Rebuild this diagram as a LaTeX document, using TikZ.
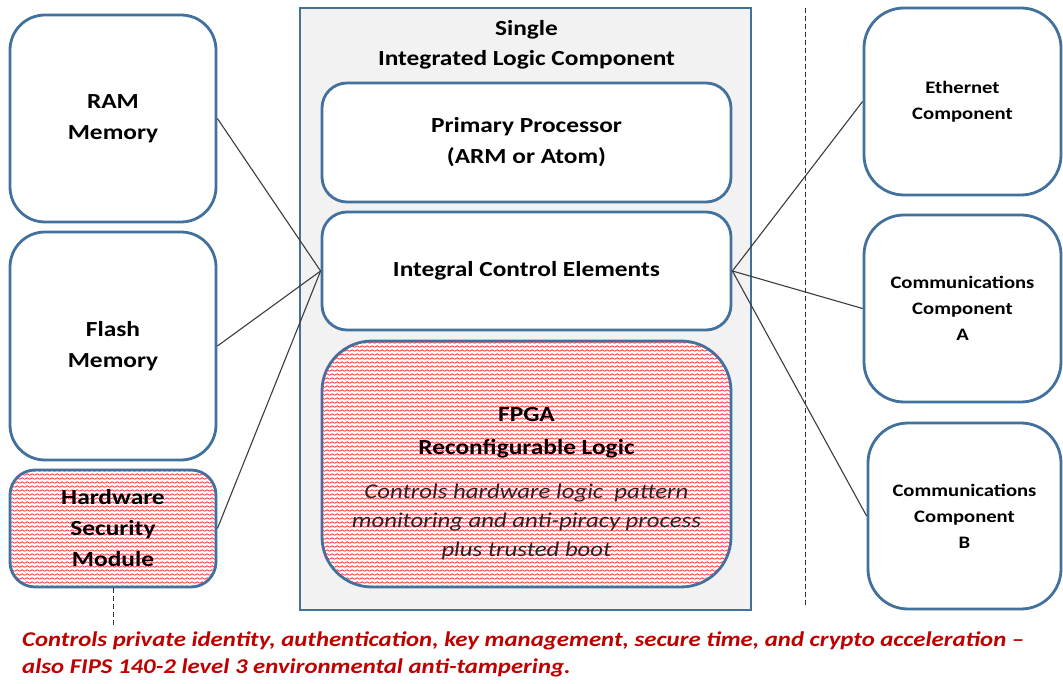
\documentclass[tikz,border=0pt]{standalone}
\usepackage{fontspec}
\setmainfont{Carlito}[FakeStretch=1.18]
\usetikzlibrary{patterns.meta}
\definecolor{bord}{RGB}{65,113,156}
\definecolor{panelgray}{RGB}{242,242,242}
\definecolor{darkred}{RGB}{192,0,0}
\definecolor{linegray}{RGB}{60,60,60}
\tikzdeclarepattern{
  name=redwave,
  type=uncolored,
  bounding box={(0pt,0pt) and (5pt,4pt)},
  tile size={(5pt,4pt)},
  code={\draw[line width=0.75pt] (-0.5pt,1.5pt) -- (0pt,1pt) -- (2.5pt,2.8pt) -- (5pt,1pt) -- (5.5pt,1.5pt);}
}
\tikzset{
  base/.style={draw=bord, line width=2.8pt, align=center, inner sep=0pt, font=\bfseries\fontsize{21.5}{31}\selectfont},
  plainbox/.style={base, fill=white},
  hatchbox/.style={base, preaction={fill=white}, pattern={redwave}, pattern color=red},
  smalltxt/.style={font=\bfseries\fontsize{17.5}{26}\selectfont},
  link/.style={draw=linegray, line width=1.1pt},
  sep/.style={draw=black!80, line width=0.9pt, dash pattern=on 5pt off 3pt},
  note/.style={text=darkred, font=\bfseries\itshape\fontsize{21}{27}\selectfont, anchor=west, inner sep=0pt}
}
\begin{document}
\begin{tikzpicture}[x=1pt,y=-1pt]
\useasboundingbox[fill=white] (0,0) rectangle (1063,684);
% left column
\node[plainbox, rounded corners=35pt, minimum width=206pt, minimum height=207pt] (ram) at (113,118.5) {RAM\\Memory};
\node[plainbox, rounded corners=35pt, minimum width=206pt, minimum height=228pt] (flash) at (113,346) {Flash\\Memory};
\node[hatchbox, rounded corners=25pt, minimum width=206pt, minimum height=117pt] (hsm) at (113,528.5) {Hardware\\Security\\Module};
% central panel
\node[draw=bord, line width=2.8pt, fill=panelgray, minimum width=451pt, minimum height=602pt, inner sep=0pt] (panel) at (525.5,309) {};
\node[font=\bfseries\fontsize{21.5}{30}\selectfont, align=center, inner sep=0pt] (title) at (526.5,45) {Single\\Integrated Logic Component};
\node[plainbox, rounded corners=25pt, minimum width=409pt, minimum height=119pt] (proc) at (526.5,142.5) {Primary Processor\\(ARM or Atom)};
\node[plainbox, rounded corners=25pt, minimum width=409pt, minimum height=118pt] (ice) at (526.5,271) {Integral Control Elements};
\node[hatchbox, rounded corners=50pt, minimum width=409pt, minimum height=246pt] (fpga) at (526.5,464) {};
\node[font=\bfseries\fontsize{21.5}{33}\selectfont, align=center, inner sep=0pt] (fpgatitle) at (526.5,432.5) {FPGA\\Reconfigurable Logic};
\node[font=\itshape\fontsize{21}{29}\selectfont, align=center, inner sep=0pt, text=black!85] (fpgadesc) at (526.5,522) {Controls hardware logic\ \ pattern\\monitoring and anti-piracy process\\plus trusted boot};
% right column
\node[plainbox, smalltxt, rounded corners=40pt, minimum width=197pt, minimum height=187pt] (eth) at (962.5,101.5) {Ethernet\\Component};
\node[plainbox, smalltxt, rounded corners=40pt, minimum width=197pt, minimum height=187pt] (coma) at (962.5,308.5) {Communications\\Component\\A};
\node[plainbox, smalltxt, rounded corners=40pt, minimum width=193pt, minimum height=186pt] (comb) at (964.5,516) {Communications\\Component\\B};
% separators
\coordinate (septop) at (805,8);
\coordinate (sepbot) at (805,606);
\draw[sep] (septop) -- (sepbot);
\coordinate (hsmnote) at (113,626);
\draw[sep] (hsm.south) -- (hsmnote);
% connectors
\draw[link] (ram.east) -- (ice.west);
\draw[link] (flash.east) -- (ice.west);
\draw[link] (hsm.east) -- (ice.west);
\draw[link] (ice.east) -- (eth.west);
\draw[link] (ice.east) -- (coma.west);
\draw[link] (ice.east) -- (comb.west);
% note
\node[note] (note1) at (22,641) {Controls private identity, authentication, key management, secure time, and crypto acceleration –};
\node[note] (note2) at (22,668) {also FIPS 140-2 level 3 environmental anti-tampering.};
\end{tikzpicture}
\end{document}
